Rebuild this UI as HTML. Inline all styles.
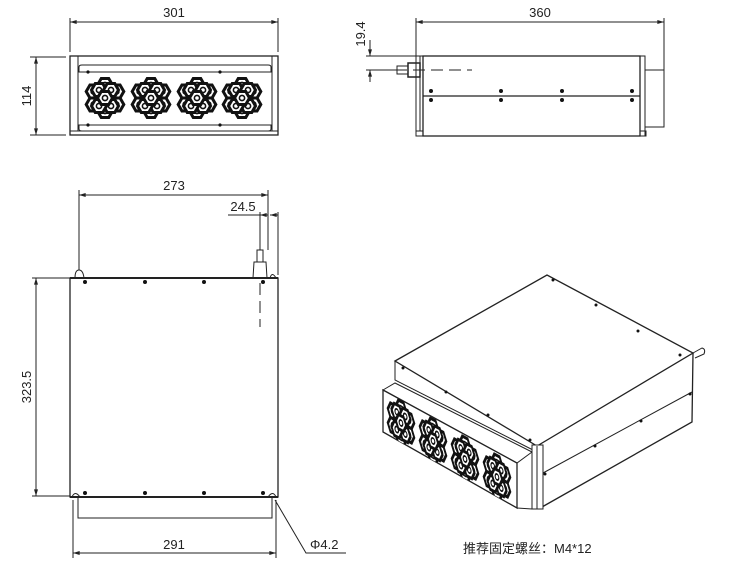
<!DOCTYPE html>
<html><head><meta charset="utf-8"><style>
html,body{margin:0;padding:0;background:#fff;}
svg{display:block;}
text{font-family:"Liberation Sans","Noto Sans CJK SC",sans-serif;fill:#222;}
</style></head><body>
<svg width="750" height="580" viewBox="0 0 750 580" xmlns="http://www.w3.org/2000/svg">
<defs>
<marker id="a" viewBox="0 0 10 6" refX="10" refY="3" markerWidth="7" markerHeight="4" orient="auto-start-reverse"><path d="M0,0L10,3L0,6z" fill="#222"/></marker>
<g id="hx"><polygon points="7.5,0 3.75,6.5 -3.75,6.5 -7.5,0 -3.75,-6.5 3.75,-6.5" fill="#fff" stroke="#111" stroke-width="3"/><circle r="2.6" fill="#fff" stroke="#111" stroke-width="1.6"/></g>
<g id="fan">
<use href="#hx" x="0" y="-13"/><use href="#hx" x="11.3" y="-6.5"/><use href="#hx" x="11.3" y="6.5"/>
<use href="#hx" x="0" y="13"/><use href="#hx" x="-11.3" y="6.5"/><use href="#hx" x="-11.3" y="-6.5"/>
<use href="#hx" x="-6" y="-8"/><use href="#hx" x="6" y="8"/><use href="#hx" x="6" y="-8"/><use href="#hx" x="-6" y="8"/>
<use href="#hx" x="0" y="0"/>
</g>
<clipPath id="pc"><polygon points="383,390 517,463 517,508 383,432"/></clipPath>
</defs>
<g fill="none" stroke="#222" stroke-width="1">
<line x1="70" y1="52" x2="70" y2="18"/><line x1="278" y1="52" x2="278" y2="18"/>
<line x1="70" y1="22" x2="278" y2="22" marker-start="url(#a)" marker-end="url(#a)"/>
<line x1="66" y1="57" x2="30" y2="57"/><line x1="66" y1="135" x2="30" y2="135"/>
<line x1="36" y1="57" x2="36" y2="135" marker-start="url(#a)" marker-end="url(#a)"/>
<rect x="70" y="56" width="208" height="79" stroke-width="1.3"/>
<line x1="78" y1="56" x2="78" y2="131"/><line x1="272" y1="56" x2="272" y2="131"/>
<line x1="70" y1="131" x2="278" y2="131"/>
<path d="M79,72 L79,67 Q79,65 82,65 L268,65 Q271,65 271,67 L271,72 Z"/>
<path d="M79,125 L79,129 Q79,131 82,131 L268,131 Q271,131 271,129 L271,125 Z"/>
<line x1="416" y1="133" x2="416" y2="18"/><line x1="664" y1="70" x2="664" y2="18"/>
<line x1="416" y1="22" x2="664" y2="22" marker-start="url(#a)" marker-end="url(#a)"/>
<line x1="420" y1="56" x2="366" y2="56"/><line x1="395" y1="70" x2="366" y2="70"/>
<line x1="370" y1="40" x2="370" y2="56" marker-end="url(#a)"/><line x1="370" y1="82" x2="370" y2="70" marker-end="url(#a)"/>
<rect x="423" y="56" width="217" height="80" stroke-width="1.3"/>
<line x1="420" y1="56" x2="420" y2="131"/><line x1="420" y1="56" x2="423" y2="56"/>
<rect x="416" y="131" width="7" height="5"/>
<rect x="640" y="56" width="5" height="80"/>
<rect x="640" y="131" width="6" height="5"/>
<rect x="645" y="70" width="19" height="57"/>
<line x1="423" y1="96" x2="640" y2="96" stroke-width="1.3"/>
<rect x="397" y="66" width="11" height="8"/><rect x="408" y="63" width="12" height="14" stroke-width="1.5"/>
<line x1="395" y1="70" x2="472" y2="70" stroke-dasharray="12,6"/>
<line x1="79" y1="270" x2="79" y2="190"/><line x1="268" y1="250" x2="268" y2="190"/>
<line x1="79" y1="195" x2="268" y2="195" marker-start="url(#a)" marker-end="url(#a)"/>
<line x1="278" y1="275" x2="278" y2="212"/><line x1="260" y1="250" x2="260" y2="212"/>
<line x1="228" y1="215" x2="260" y2="215"/>
<line x1="268" y1="215" x2="260" y2="215" marker-end="url(#a)"/><line x1="270" y1="215" x2="278" y2="215" marker-start="url(#a)"/>
<line x1="260" y1="283" x2="260" y2="327" stroke-dasharray="12,6"/>
<rect x="70" y="278" width="208" height="219" stroke-width="1.3"/>
<line x1="70" y1="278" x2="278" y2="278" stroke-width="2"/>
<line x1="70" y1="497" x2="278" y2="497" stroke-width="2"/>
<path d="M75,278 Q75,270 79,270 Q83,270 84,278"/>
<path d="M253,278 L254,262 L266,262 L267,278"/><rect x="257" y="250" width="6" height="12"/>
<path d="M270,278 Q272,271 276,278"/>
<path d="M72,497 Q75,490 80,497"/><path d="M268,497 Q273,490 276,497"/>
<path d="M78,497 L78,518 L272,518 L272,497"/>
<line x1="32" y1="278" x2="70" y2="278"/><line x1="32" y1="496" x2="70" y2="496"/>
<line x1="36" y1="278" x2="36" y2="496" marker-start="url(#a)" marker-end="url(#a)"/>
<line x1="73" y1="500" x2="73" y2="558"/><line x1="276" y1="500" x2="276" y2="558"/>
<line x1="73" y1="553" x2="276" y2="553" marker-start="url(#a)" marker-end="url(#a)"/>
<polyline points="275,500 306,553 346,553"/>
<polygon points="395,361 547,275 693,353 537,446" stroke-width="1.3"/>
<polyline points="537,446 542,507 692,422 693,353" stroke-width="1.3"/>
<line x1="543" y1="473" x2="692" y2="392"/>
<polyline points="395,361 395,380 533,450"/>
<polygon points="383,390 395,383 532,452 517,463" fill="#fff"/>
<polygon points="383,390 517,463 517,508 383,432" stroke-width="1.3" fill="#fff"/>
<rect x="532" y="445" width="11" height="64" fill="#fff"/>
<line x1="537" y1="446" x2="537" y2="509"/>
<line x1="517" y1="508" x2="532" y2="509"/>
<path d="M693,353 L702,348 Q706,349 704,354 L695,358"/>
</g>
<g fill="#111">
<circle cx="88" cy="72" r="1.6"/><circle cx="220" cy="72" r="1.6"/>
<circle cx="88" cy="125" r="1.6"/><circle cx="220" cy="125" r="1.6"/>
<circle cx="431" cy="91" r="2"/><circle cx="501" cy="91" r="2"/><circle cx="562" cy="91" r="2"/><circle cx="632" cy="91" r="2"/>
<circle cx="431" cy="100" r="2"/><circle cx="501" cy="100" r="2"/><circle cx="562" cy="100" r="2"/><circle cx="632" cy="100" r="2"/>
<circle cx="85" cy="282" r="2"/><circle cx="145" cy="282" r="2"/><circle cx="204" cy="282" r="2"/><circle cx="263" cy="282" r="2"/>
<circle cx="85" cy="493" r="2"/><circle cx="145" cy="493" r="2"/><circle cx="204" cy="493" r="2"/><circle cx="263" cy="493" r="2"/>
<circle cx="553" cy="280" r="1.5"/><circle cx="596" cy="305" r="1.5"/><circle cx="638" cy="331" r="1.5"/><circle cx="680" cy="355" r="1.5"/>
<circle cx="403" cy="368" r="1.5"/><circle cx="446" cy="392" r="1.5"/><circle cx="488" cy="415" r="1.5"/><circle cx="530" cy="440" r="1.5"/>
<circle cx="545" cy="474" r="1.5"/><circle cx="595" cy="446" r="1.5"/><circle cx="641" cy="421" r="1.5"/><circle cx="690" cy="394" r="1.5"/>
</g>
<use href="#fan" transform="translate(105,98)"/>
<use href="#fan" transform="translate(151,98)"/>
<use href="#fan" transform="translate(197,98)"/>
<use href="#fan" transform="translate(242,98)"/>
<g clip-path="url(#pc)">
<g transform="translate(401,423) matrix(0.7,0.38,0,1.1,0,0)"><use href="#fan"/></g>
<g transform="translate(433,441) matrix(0.7,0.38,0,1.1,0,0)"><use href="#fan"/></g>
<g transform="translate(465,459) matrix(0.7,0.38,0,1.1,0,0)"><use href="#fan"/></g>
<g transform="translate(497,477) matrix(0.7,0.38,0,1.1,0,0)"><use href="#fan"/></g>
</g>
<g font-size="13">
<text x="174" y="17" text-anchor="middle">301</text>
<text x="540" y="17" text-anchor="middle">360</text>
<text x="174" y="190" text-anchor="middle">273</text>
<text x="243" y="211" text-anchor="middle">24.5</text>
<text x="174" y="549" text-anchor="middle">291</text>
<text x="310" y="549">Φ4.2</text>
<text transform="translate(31,96) rotate(-90)" text-anchor="middle">114</text>
<text transform="translate(365,34) rotate(-90)" text-anchor="middle">19.4</text>
<text transform="translate(31,387) rotate(-90)" text-anchor="middle">323.5</text>
<text x="463" y="553">推荐固定螺丝：M4*12</text>
</g>
</svg>
</body></html>
